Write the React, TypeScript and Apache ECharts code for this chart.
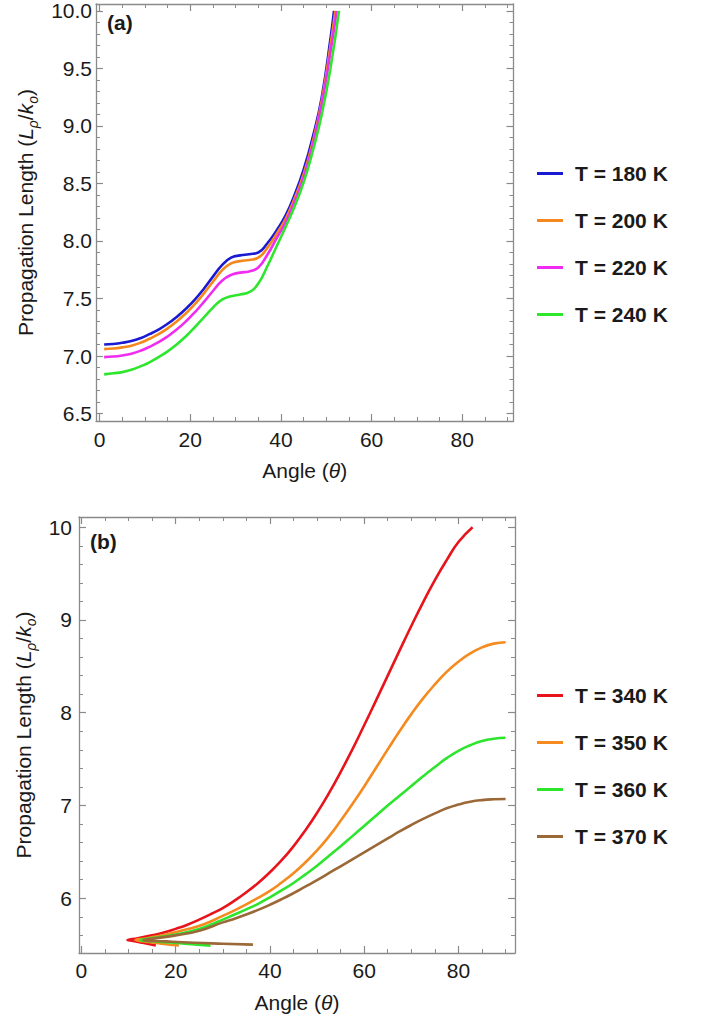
import React, { useEffect, useRef } from "react";
import * as echarts from "echarts";

const FONT = "'Liberation Sans', Arial, Helvetica, sans-serif";
const FRAME = "#8a8a8a";
const INK = "#1a1a1a";
const FS = 21;

// ---- Panel (a): 180–240 K ----
const namesA = ["T = 180 K", "T = 200 K", "T = 220 K", "T = 240 K"];
const colorsA = ["#1a1ad2", "#f5871f", "#f02cf0", "#2ee62e"];
const angleA = [1, 3, 5, 7, 9, 11, 13, 15, 17, 19, 21, 23, 25, 27, 29, 31, 33, 35, 37, 39, 41, 43, 45, 47, 49, 51];
const endAngleA = [51.7, 52.0, 52.3, 52.8];
const len180 = [7.10, 7.105, 7.115, 7.13, 7.155, 7.19, 7.23, 7.28, 7.34, 7.41, 7.49, 7.585, 7.69, 7.79, 7.855, 7.875, 7.885, 7.90, 7.98, 8.09, 8.22, 8.40, 8.62, 8.90, 9.25, 9.78, 10.0];
const len200 = [7.06, 7.065, 7.075, 7.09, 7.115, 7.15, 7.19, 7.24, 7.30, 7.37, 7.45, 7.545, 7.645, 7.745, 7.805, 7.825, 7.835, 7.855, 7.94, 8.06, 8.19, 8.37, 8.58, 8.86, 9.22, 9.72, 10.0];
const len220 = [6.99, 6.995, 7.005, 7.02, 7.045, 7.08, 7.12, 7.17, 7.23, 7.30, 7.38, 7.47, 7.565, 7.655, 7.705, 7.725, 7.735, 7.77, 7.88, 8.02, 8.16, 8.34, 8.55, 8.83, 9.19, 9.66, 10.0];
const len240 = [6.84, 6.85, 6.86, 6.88, 6.91, 6.945, 6.99, 7.04, 7.10, 7.17, 7.25, 7.335, 7.42, 7.49, 7.52, 7.535, 7.555, 7.63, 7.78, 7.95, 8.12, 8.30, 8.51, 8.78, 9.10, 9.52, 10.0];
const lensA = [len180, len200, len220, len240];

const xMajorA = [0, 20, 40, 60, 80];
const yMajorA = [6.5, 7.0, 7.5, 8.0, 8.5, 9.0, 9.5, 10.0];

// ---- Panel (b): 340–370 K (each curve folds back at its low-angle tip) ----
const namesB = ["T = 340 K", "T = 350 K", "T = 360 K", "T = 370 K"];
const colorsB = ["#e8141c", "#f58a1e", "#2de52d", "#9b6837"];
const angleRise = [30, 32.5, 35, 37.5, 40, 42.5, 45, 47.5, 50, 52.5, 55, 57.5, 60, 62.5, 65, 67.5, 70, 72.5, 75, 77.5, 80, 82.5, 85, 87.5, 90];
const angle340 = [15.8, 13, 11, 9.8, 12, 15, 17.5, 20, 22.5, 25, 27.5, ...angleRise.slice(0, 21), 83];
const len340 = [5.49, 5.52, 5.54, 5.55, 5.57, 5.60, 5.63, 5.67, 5.715, 5.77, 5.83,
  5.895, 5.975, 6.065, 6.165, 6.28, 6.41, 6.56, 6.73, 6.92, 7.13, 7.36, 7.605, 7.865, 8.13, 8.40, 8.67, 8.935, 9.19, 9.43, 9.645, 9.84,
  10.0];
const angle350 = [20.7, 17, 14, 11.5, 14, 18, 22, 26, ...angleRise];
const len350 = [5.49, 5.51, 5.53, 5.55, 5.57, 5.61, 5.66, 5.72,
  5.81, 5.87, 5.935, 6.005, 6.08, 6.17, 6.27, 6.385, 6.515, 6.665, 6.835, 7.015, 7.205, 7.405, 7.605, 7.80, 7.985, 8.155, 8.305, 8.44, 8.55, 8.64, 8.705, 8.745, 8.76];
const angle360 = [27.4, 22, 17, 12.5, 15, 20, 25, ...angleRise];
const len360 = [5.49, 5.51, 5.53, 5.55, 5.57, 5.61, 5.67,
  5.77, 5.825, 5.88, 5.94, 6.01, 6.085, 6.165, 6.255, 6.35, 6.455, 6.56, 6.67, 6.78, 6.89, 7.00, 7.105, 7.21, 7.315, 7.415, 7.51, 7.59, 7.65, 7.695, 7.72, 7.73];
const angle370 = [36.4, 30, 24, 18, 13.2, 16, 20, 25, ...angleRise];
const len370 = [5.50, 5.51, 5.52, 5.535, 5.55, 5.57, 5.60, 5.65,
  5.74, 5.78, 5.825, 5.875, 5.93, 5.99, 6.055, 6.125, 6.195, 6.27, 6.345, 6.42, 6.495, 6.57, 6.645, 6.72, 6.79, 6.855, 6.915, 6.97, 7.01, 7.04, 7.058, 7.067, 7.07];
const anglesB = [angle340, angle350, angle360, angle370];
const lensB = [len340, len350, len360, len370];

const xMajorB = [0, 20, 40, 60, 80];
const yMajorB = [6, 7, 8, 9, 10];

// minor tick positions between majors
function steps(from: number, to: number, step: number, skip: number): number[] {
  const out: number[] = [];
  const n = Math.round((to - from) / step);
  for (let i = 0; i <= n; i++) {
    const v = Math.round((from + i * step) * 1000) / 1000;
    const r = v / skip;
    if (Math.abs(r - Math.round(r)) > 1e-6) out.push(v);
  }
  return out;
}

const nameRich = {
  i: { fontStyle: "italic", fontSize: FS, fontFamily: FONT, color: INK },
  s: { fontStyle: "italic", fontSize: 14, fontFamily: FONT, color: INK, verticalAlign: "bottom" as const, padding: [0, 0, -4, 0] },
};

function axisSet(
  dim: "x" | "y",
  gridIndex: number,
  min: number,
  max: number,
  major: number[],
  minor: number[],
  label: {
    formatter: (v: number) => string;
    margin: number;
    name: string;
    nameGap: number;
  }
) {
  const sides = dim === "x" ? ["bottom", "top"] : ["left", "right"];
  const axes: any[] = [];
  sides.forEach((pos, si) => {
    // major ticks (with frame line)
    axes.push({
      type: "value",
      gridIndex,
      position: pos,
      min,
      max,
      offset: 0,
      axisLine: { show: true, onZero: false, lineStyle: { color: FRAME, width: 1.3 } },
      axisTick: { show: true, inside: true, length: 7, customValues: major, lineStyle: { color: FRAME, width: 1.2 } },
      axisLabel: {
        show: si === 0,
        customValues: major,
        formatter: label.formatter,
        margin: label.margin,
        fontSize: FS,
        fontFamily: FONT,
        color: INK,
      },
      splitLine: { show: false },
      name: si === 0 ? label.name : "",
      nameLocation: "middle",
      nameGap: label.nameGap,
      nameTextStyle: { fontSize: FS, fontFamily: FONT, color: INK, rich: nameRich },
    });
    // minor ticks
    axes.push({
      type: "value",
      gridIndex,
      position: pos,
      min,
      max,
      offset: 0,
      axisLine: { show: false, onZero: false },
      axisTick: { show: true, inside: true, length: 4, customValues: minor, lineStyle: { color: FRAME, width: 1 } },
      axisLabel: { show: false },
      splitLine: { show: false },
    });
  });
  return axes;
}

export default function App() {
  const ref = useRef<HTMLDivElement>(null);

  useEffect(() => {
    if (!ref.current) return;
    const chart = echarts.init(ref.current, undefined, { renderer: "svg" });

    const xA = axisSet("x", 0, -0.8, 91.3, xMajorA, steps(0, 90, 5, 20), {
      formatter: (v) => String(v),
      margin: 8,
      name: "Angle ({i|θ})",
      nameGap: 39,
    });
    const yA = axisSet("y", 0, 6.435, 10.06, yMajorA, steps(6.5, 10.0, 0.1, 0.5), {
      formatter: (v) => v.toFixed(1),
      margin: 4,
      name: "Propagation Length ({i|L}{s|ρ}/{i|k}{s|o})",
      nameGap: 58,
    });
    const xB = axisSet("x", 1, -0.5, 92, xMajorB, steps(0, 90, 5, 20), {
      formatter: (v) => String(v),
      margin: 7,
      name: "Angle ({i|θ})",
      nameGap: 39,
    });
    const yB = axisSet("y", 1, 5.41, 10.11, yMajorB, steps(5.6, 10.0, 0.2, 1), {
      formatter: (v) => String(v),
      margin: 7,
      name: "Propagation Length ({i|L}{s|ρ}/{i|k}{s|o})",
      nameGap: 40,
    });

    const seriesA = namesA.map((name, i) => ({
      name,
      type: "line",
      xAxisIndex: 0,
      yAxisIndex: 0,
      data: angleA.concat([endAngleA[i]]).map((a, k) => [a, lensA[i][k]]),
      showSymbol: false,
      symbol: "none",
      smooth: 0.5,
      smoothConstraint: false,
      color: colorsA[i],
      itemStyle: { color: colorsA[i] },
      lineStyle: { width: 2.6, color: colorsA[i] },
    }));
    const seriesB = namesB.map((name, i) => ({
      name,
      type: "line",
      xAxisIndex: 4,
      yAxisIndex: 4,
      data: anglesB[i].map((a, k) => [a, lensB[i][k]]),
      showSymbol: false,
      symbol: "none",
      smooth: 0.5,
      smoothConstraint: false,
      color: colorsB[i],
      itemStyle: { color: colorsB[i] },
      lineStyle: { width: 2.6, color: colorsB[i] },
    }));

    const legendBase = {
      orient: "vertical",
      left: 537,
      padding: 0,
      itemWidth: 26,
      itemHeight: 3,
      itemGap: 26,
      icon: "rect",
      selectedMode: false,
      textStyle: {
        fontSize: FS,
        fontWeight: "bold",
        fontFamily: FONT,
        color: INK,
        lineHeight: 20,
        padding: [0, 0, 0, 7],
      },
    };

    chart.setOption({
      animation: false,
      backgroundColor: "#ffffff",
      grid: [
        { left: 96, top: 4, width: 417.5, height: 417, outerBoundsMode: "none" },
        { left: 79, top: 517, width: 436, height: 436, outerBoundsMode: "none" },
      ],
      xAxis: [...xA, ...xB],
      yAxis: [...yA, ...yB],
      legend: [
        { ...legendBase, top: 163, data: namesA },
        { ...legendBase, top: 685, data: namesB },
      ],
      graphic: [
        { type: "text", left: 107, top: 12, style: { text: "(a)", fontSize: FS, fontWeight: "bold", fontFamily: FONT, fill: INK } },
        { type: "text", left: 90, top: 531, style: { text: "(b)", fontSize: FS, fontWeight: "bold", fontFamily: FONT, fill: INK } },
      ],
      series: [...seriesA, ...seriesB],
    });

    return () => chart.dispose();
  }, []);

  return (
    <div
      ref={ref}
      style={{ position: "absolute", left: 0, top: 0, width: 702, height: 1019, background: "#fff" }}
    />
  );
}
